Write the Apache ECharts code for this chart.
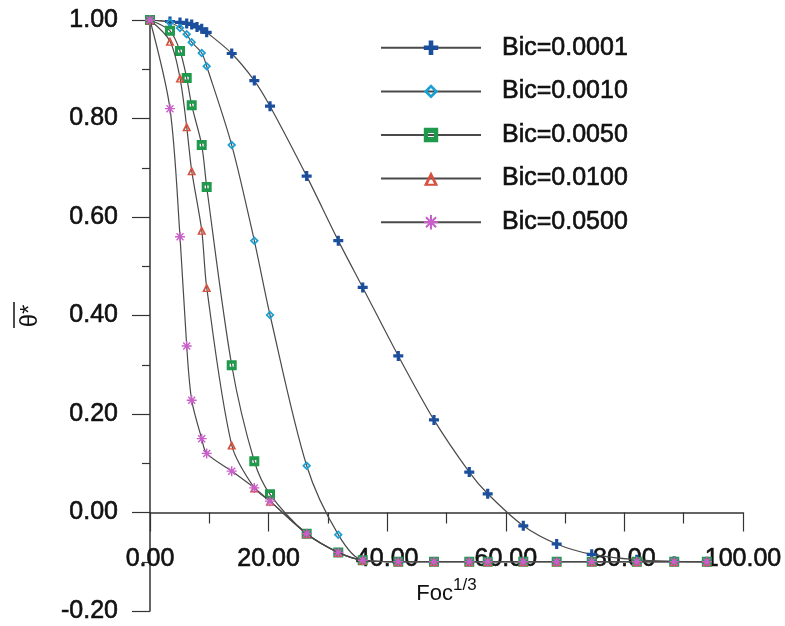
<!DOCTYPE html>
<html>
<head>
<meta charset="utf-8">
<script src="https://cdn.jsdelivr.net/npm/echarts@6/dist/echarts.min.js"></script>
<style>
html,body{margin:0;padding:0;background:#fff;}
#chart{width:785px;height:626px;}
</style>
</head>
<body>
<div id="chart"></div>
<script>
// Shared x values (Foc^(1/3))
const foc = [0, 3.37, 5.06, 6.19, 7.03, 7.93, 8.72, 9.56, 13.78, 17.59, 20.24, 26.42, 31.75, 35.87, 41.87, 47.89, 53.84, 56.95, 62.95, 68.58, 74.49, 82.10, 88.40, 93.90];

const bic0001 = [1.000, 0.997, 0.995, 0.993, 0.991, 0.986, 0.982, 0.975, 0.932, 0.877, 0.825, 0.683, 0.552, 0.457, 0.318, 0.188, 0.082, 0.038, -0.027, -0.064, -0.085, -0.096, -0.099, -0.100];
const bic0010 = [1.000, 0.995, 0.984, 0.971, 0.955, null, 0.933, 0.906, 0.746, 0.552, 0.401, 0.095, -0.045, -0.097, -0.100, -0.100, -0.100, -0.100, -0.100, -0.100, -0.100, -0.100, -0.100, -0.100];
const bic0050 = [1.000, 0.978, 0.937, 0.882, 0.827, null, 0.746, 0.661, 0.299, 0.104, 0.037, -0.043, -0.081, -0.097, -0.100, -0.100, -0.100, -0.100, -0.100, -0.100, -0.100, -0.100, -0.100, -0.100];
const bic0100 = [1.000, 0.957, 0.882, 0.783, 0.694, null, 0.573, 0.457, 0.137, 0.050, 0.023, -0.043, -0.081, -0.097, -0.100, -0.100, -0.100, -0.100, -0.100, -0.100, -0.100, -0.100, -0.100, -0.100];
const bic0500 = [1.000, 0.820, 0.560, 0.338, 0.228, null, 0.150, 0.120, 0.084, 0.050, 0.023, -0.043, -0.081, -0.097, -0.100, -0.100, -0.100, -0.100, -0.100, -0.100, -0.100, -0.100, -0.100, -0.100];

const seriesNames = ['Bic=0.0001', 'Bic=0.0010', 'Bic=0.0050', 'Bic=0.0100', 'Bic=0.0500'];
const seriesValues = [bic0001, bic0010, bic0050, bic0100, bic0500];

const xTicks = [0, 20, 40, 60, 80, 100];
const yTicks = [-0.2, 0, 0.2, 0.4, 0.6, 0.8, 1.0];

const FONT = 'Liberation Sans, Arial, sans-serif';
const TXT = '#111';
const colors = ['#1b4f9e', '#1b9fd2', '#1f9a4c', '#d8503e', '#c95fc9'];
const symbols = [
  'path://M3.4,0H6.6V3.4H10V6.6H6.6V10H3.4V6.6H0V3.4H3.4Z',
  'path://M5,0L10,5L5,10L0,5ZM5,2.7L2.7,5L5,7.3L7.3,5Z',
  'path://M0,0H10V10H0ZM3,3.6V6.4H7V3.6Z',
  'path://M5,0L10,10L0,10ZM5,4.2L2.9,8.6L7.1,8.6Z',
  'path://M4.3,0H5.7V10H4.3ZM0,4.3H10V5.7H0ZM2,1L9,8L8,9L1,2ZM8,1L9,2L2,9L1,8Z'
];
const sizes = [10, 9, 10, 9, 10];

function pairs(ys) {
  const out = [];
  for (let i = 0; i < foc.length; i++) {
    if (ys[i] !== null && ys[i] !== undefined) out.push([foc[i], ys[i]]);
  }
  return out;
}

const chart = echarts.init(document.getElementById('chart'), null, {renderer: 'canvas'});

const series = seriesNames.map((name, i) => ({
  name: name,
  type: 'line',
  data: pairs(seriesValues[i]),
  smooth: 0.3,
  symbol: symbols[i],
  symbolSize: sizes[i],
  showAllSymbol: true,
  itemStyle: {color: colors[i]},
  lineStyle: {color: '#4a4a4a', width: 1.2},
  emphasis: {disabled: true},
  z: 2 + i
}));

const heavy = {textBorderColor: TXT, textBorderWidth: 0.6};

chart.setOption({
  animation: false,
  backgroundColor: '#fff',
  grid: {left: 150, right: 42, top: 20, bottom: 15, containLabel: false, outerBoundsMode: 'none'},
  legend: {
    data: seriesNames,
    orient: 'vertical',
    left: 375,
    top: 30,
    itemWidth: 100,
    itemHeight: 18,
    itemGap: 18,
    selectedMode: false,
    textStyle: Object.assign({fontFamily: FONT, fontSize: 25, color: TXT, lineHeight: 25, padding: [0, 0, 0, 16]}, heavy)
  },
  xAxis: {
    type: 'value',
    min: xTicks[0],
    max: xTicks[xTicks.length - 1],
    interval: 20,
    name: '{a|Foc}{b|1/3}',
    nameLocation: 'middle',
    nameGap: -36,
    nameTextStyle: {
      rich: {
        a: {fontFamily: FONT, fontSize: 22, color: TXT, lineHeight: 28, verticalAlign: 'bottom'},
        b: {fontFamily: FONT, fontSize: 17, color: TXT, lineHeight: 18, verticalAlign: 'top'}
      }
    },
    axisLine: {show: true, onZero: true, lineStyle: {color: '#333', width: 1.5}},
    axisTick: {show: true, inside: false, length: 19, lineStyle: {color: '#333', width: 1.2}},
    minorTick: {show: true, splitNumber: 2, length: 11, lineStyle: {color: '#333', width: 1.2}},
    splitLine: {show: false},
    axisLabel: Object.assign({fontFamily: FONT, fontSize: 25, color: TXT, margin: -64, formatter: v => v.toFixed(2)}, heavy)
  },
  yAxis: {
    type: 'value',
    min: yTicks[0],
    max: yTicks[yTicks.length - 1],
    interval: 0.2,
    axisLine: {show: true, lineStyle: {color: '#333', width: 1.5}},
    axisTick: {show: true, inside: false, length: 18, lineStyle: {color: '#333', width: 1.2}},
    minorTick: {show: true, splitNumber: 2, length: 8, lineStyle: {color: '#333', width: 1.2}},
    splitLine: {show: false},
    axisLabel: Object.assign({fontFamily: FONT, fontSize: 25, color: TXT, margin: 32, formatter: v => v.toFixed(2)}, heavy)
  },
  graphic: [
    {type: 'text', x: 30, y: 316, rotation: Math.PI / 2,
     style: {text: 'θ*', font: '24px ' + FONT, fill: TXT, align: 'center', verticalAlign: 'middle'}},
    {type: 'line', shape: {x1: 14, y1: 302, x2: 14, y2: 328}, style: {stroke: TXT, lineWidth: 1.5}}
  ],
  series: series
});
</script>
</body>
</html>
